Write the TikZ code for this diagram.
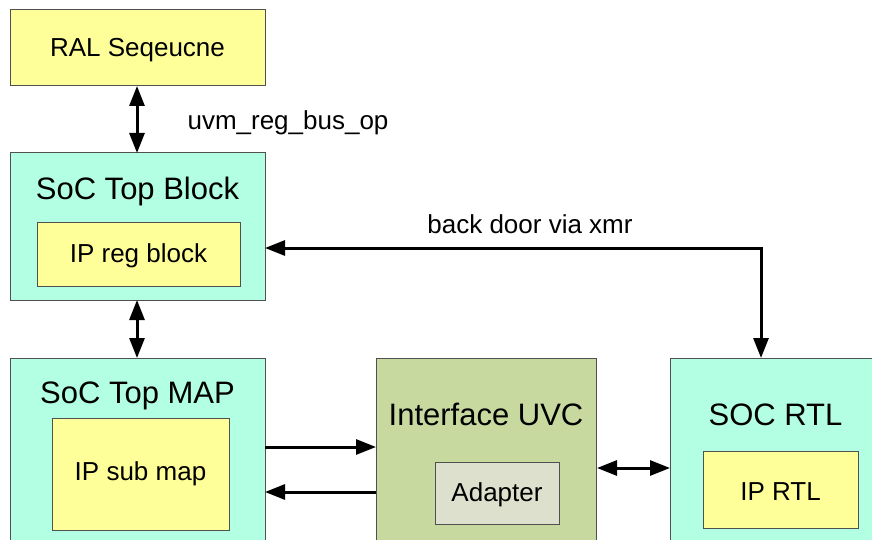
\documentclass[tikz,border=0pt]{standalone}
\usepackage{fontspec}
\setmainfont{Liberation Sans}
\usetikzlibrary{arrows.meta}
\definecolor{ylw}{HTML}{FFFF99}
\definecolor{cyn}{HTML}{B3FFE3}
\definecolor{olv}{HTML}{C8D9A0}
\definecolor{adp}{HTML}{DDE0CC}
\definecolor{edge}{HTML}{505050}
\tikzset{
  box/.style={draw=edge, line width=1pt},
  tip/.tip={Triangle[length=20pt,width=15pt]},
  conn/.style={line width=3pt, -tip},
  dconn/.style={line width=3pt, tip-tip},
  big/.style={font=\fontsize{31}{36}\selectfont, inner sep=0pt},
  small/.style={font=\fontsize{26}{30}\selectfont, inner sep=0pt},
}
\begin{document}
\begin{tikzpicture}[x=1pt,y=-1pt]
\useasboundingbox (0,0) rectangle (872,540);
\begin{scope}
\clip (0,0) rectangle (872,540);
\draw[box, fill=ylw] (10,10) rectangle (265,86);
\node[small] (ral) at (137.5,50.5) {RAL Seqeucne};

\draw[box, fill=cyn] (10,153) rectangle (265,300);
\node[big] (soctop) at (137.5,191.5) {SoC Top Block};
\draw[box, fill=ylw] (37,222) rectangle (240,286);
\node[small] (ipreg) at (138.5,255.5) {IP reg block};

\draw[box, fill=cyn] (10,358) rectangle (265,560);
\node[big] (socmap) at (137.5,395.5) {SoC Top MAP};
\draw[box, fill=ylw] (52,418) rectangle (229,530);
\node[small] (ipsub) at (140.5,473.5) {IP sub map};

\draw[box, fill=olv] (376,358) rectangle (596,560);
\node[big] (uvc) at (486,414.5) {Interface UVC};
\draw[box, fill=adp] (435,462) rectangle (559,524);
\node[small] (adapter) at (497,494.5) {Adapter};

\draw[box, fill=cyn] (670,358) rectangle (890,560);
\node[big] (socrtl) at (775.5,414.5) {SOC RTL};
\draw[box, fill=ylw] (703,451) rectangle (858,528);
\node[small] (iprtl) at (780.5,491.5) {IP RTL};
\end{scope}

\coordinate (ralB) at (137,86);
\coordinate (topT) at (137,153);
\coordinate (topB) at (137,300);
\coordinate (mapT) at (137,358);
\coordinate (topR) at (265,248);
\coordinate (corner) at (761,248);
\coordinate (rtlT) at (761,358);
\coordinate (mapR1) at (265,447);
\coordinate (uvcL1) at (376,447);
\coordinate (mapR2) at (265,492);
\coordinate (uvcL2) at (376,492);
\coordinate (uvcR) at (597,468);
\coordinate (rtlL) at (670,468);

\draw[dconn] (ralB) -- (topT);
\draw[dconn] (topB) -- (mapT);
\draw[dconn] (topR) -- (corner) -- (rtlT);
\draw[conn] (mapR1) -- (uvcL1);
\draw[conn] (uvcL2) -- (mapR2);
\draw[dconn] (uvcR) -- (rtlL);

\node[small] (lbl1) at (288,122.5) {uvm\_reg\_bus\_op};
\node[small] (lbl2) at (530,224.5) {back door via xmr};
\end{tikzpicture}
\end{document}
